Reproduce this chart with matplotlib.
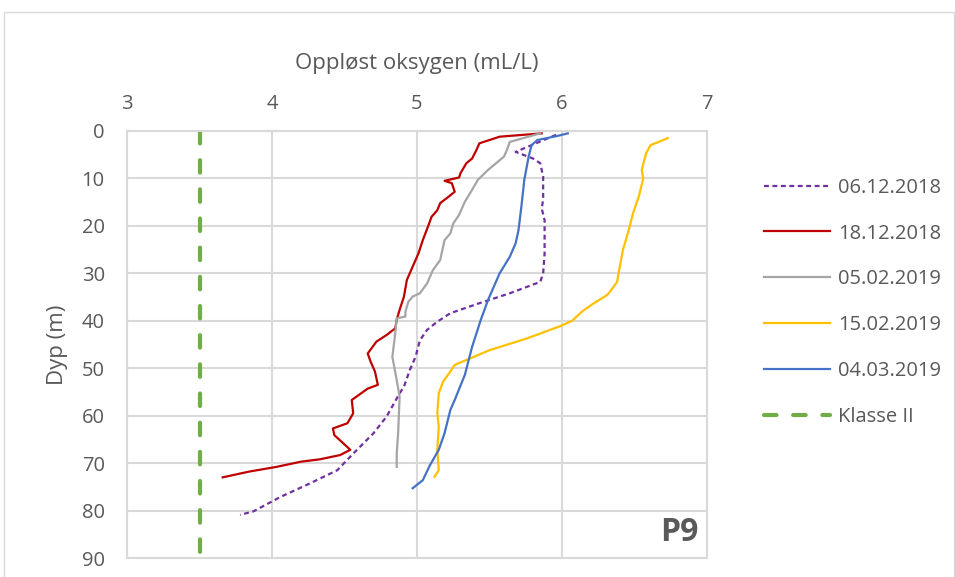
import matplotlib.pyplot as plt
from matplotlib.patches import Rectangle

# dissolved oxygen (mL/L) vs depth (m)
d061218_x = [5.96, 5.68, 5.80, 5.85, 5.87, 5.87, 5.86, 5.88, 5.88, 5.87, 5.85, 5.64, 5.43, 5.23, 5.14,
             5.07, 5.02, 4.99, 4.95, 4.91, 4.88, 4.79, 4.70, 4.56, 4.45, 4.26, 4.06, 3.87, 3.78]
d061218_y = [0.8, 4.4, 5.8, 6.8, 9.6, 14.5, 16.3, 18.8, 25.8, 30.0, 31.8, 34.2, 36.3, 38.4, 40.2,
             41.9, 44.1, 47.6, 50.4, 53.9, 55.3, 60.2, 63.7, 68.0, 71.5, 74.3, 77.1, 80.2, 80.9]

d181218_x = [5.86, 5.57, 5.43, 5.41, 5.38, 5.34, 5.30, 5.29, 5.19, 5.24, 5.26, 5.22, 5.16, 5.14, 5.10,
             5.08, 5.04, 5.01, 4.99, 4.96, 4.93, 4.91, 4.88, 4.86, 4.85, 4.79, 4.72, 4.66, 4.68, 4.71,
             4.73, 4.66, 4.55, 4.56, 4.52, 4.42, 4.43, 4.48, 4.54, 4.47, 4.33, 4.20, 4.03, 3.84, 3.66]
d181218_y = [0.5, 1.2, 2.6, 4.0, 5.8, 6.8, 8.9, 9.8, 10.5, 11.0, 12.8, 13.8, 15.2, 16.7, 18.1,
             19.8, 23.0, 25.8, 27.2, 29.3, 31.4, 34.9, 37.7, 39.8, 41.6, 43.0, 44.4, 46.9, 48.6, 50.7,
             53.5, 54.3, 56.7, 59.5, 61.6, 62.7, 64.1, 65.5, 67.2, 68.3, 69.2, 69.7, 70.8, 71.8, 73.0]

d050219_x = [5.85, 5.64, 5.62, 5.60, 5.49, 5.42, 5.38, 5.33, 5.29, 5.25, 5.23, 5.19, 5.16, 5.11, 5.07,
             5.02, 4.97, 4.94, 4.92, 4.92, 4.86, 4.85, 4.83, 4.86, 4.88, 4.87, 4.86, 4.86]
d050219_y = [0.5, 2.3, 4.0, 5.4, 8.2, 10.3, 12.4, 14.9, 17.7, 19.5, 21.6, 23.0, 27.2, 29.3, 32.1,
             34.2, 34.9, 36.0, 38.1, 39.1, 39.5, 42.6, 47.6, 52.5, 56.0, 63.7, 68.0, 70.8]

d150219_x = [6.73, 6.61, 6.58, 6.55, 6.56, 6.53, 6.49, 6.46, 6.42, 6.39, 6.38, 6.33, 6.31, 6.22, 6.14,
             6.07, 5.99, 5.76, 5.50, 5.26, 5.23, 5.18, 5.15, 5.14, 5.15, 5.14, 5.15, 5.12]
d150219_y = [1.5, 3.0, 4.7, 8.2, 10.0, 13.8, 17.3, 20.9, 25.1, 30.0, 31.8, 33.9, 34.6, 36.3, 38.0,
             40.0, 41.1, 43.7, 46.2, 49.3, 50.7, 52.8, 55.3, 59.5, 62.3, 67.2, 71.5, 72.9]

d040319_x = [6.04, 5.96, 5.83, 5.79, 5.77, 5.74, 5.72, 5.70, 5.68, 5.64, 5.57, 5.54, 5.49, 5.44,
             5.38, 5.33, 5.26, 5.23, 5.19, 5.15, 5.09, 5.04, 4.97]
d040319_y = [0.5, 1.1, 1.9, 3.0, 5.4, 10.3, 15.9, 20.9, 23.7, 26.5, 30.0, 32.1, 35.6, 39.8,
             45.5, 51.4, 56.7, 58.8, 63.7, 67.2, 70.4, 73.6, 75.3]

klasse_x = [3.5, 3.5]
klasse_y = [0, 90]

txt = '#595959'
grid = '#d9d9d9'
plt.rcParams['font.family'] = ['Open Sans', 'DejaVu Sans']

fig = plt.figure(figsize=(9.55, 5.77), dpi=100)
ax = fig.add_axes([127 / 955, 1 - 558 / 577, 580 / 955, 427 / 577])

ax.plot(d061218_x, d061218_y, color='#7030A0', lw=1.6, ls=(0, (2.2, 1.6)), label='06.12.2018')
ax.plot(d181218_x, d181218_y, color='#C00000', lw=1.6, label='18.12.2018')
ax.plot(d050219_x, d050219_y, color='#A5A5A5', lw=1.6, label='05.02.2019')
ax.plot(d150219_x, d150219_y, color='#FFC000', lw=1.6, label='15.02.2019')
ax.plot(d040319_x, d040319_y, color='#4472C4', lw=1.6, label='04.03.2019')
ax.plot(klasse_x, klasse_y, color='#70AD47', lw=3, ls=(0, (3, 4)), solid_capstyle='round',
        dash_capstyle='round', label='Klasse II')

ax.set_xlim(3, 7)
ax.set_ylim(90, 0)
ax.set_xticks([3, 4, 5, 6, 7])
ax.set_yticks(range(0, 100, 10))
ax.xaxis.tick_top()
ax.xaxis.set_label_position('top')
ax.tick_params(length=0, labelsize=14.5, labelcolor=txt)
ax.tick_params(axis='x', pad=12)
ax.tick_params(axis='y', pad=16)
ax.grid(True, color=grid, lw=1.5)
ax.set_axisbelow(True)
for s in ax.spines.values():
    s.set_color(grid)
    s.set_linewidth(1.5)

ax.set_xlabel('Oppløst oksygen (mL/L)', fontsize=16, color=txt, labelpad=18)
ax.set_ylabel('Dyp (m)', fontsize=16, color=txt, labelpad=10)

ax.text(0.985, 0.02, 'P9', transform=ax.transAxes, ha='right', va='bottom',
        fontsize=23, fontweight='bold', color=txt)

leg = ax.legend(loc='upper left', bbox_to_anchor=(1.067, 0.933), frameon=False, fontsize=14.5,
                handlelength=3.3, labelspacing=1.28, handletextpad=0.4)
for t in leg.get_texts():
    t.set_color(txt)

fig.patches.append(Rectangle((4 / 955, -0.01), 950 / 955, 1 - 12 / 577 + 0.01,
                             transform=fig.transFigure, fill=False, ec='#d9d9d9', lw=1))

fig.savefig('out.png', dpi=100)
